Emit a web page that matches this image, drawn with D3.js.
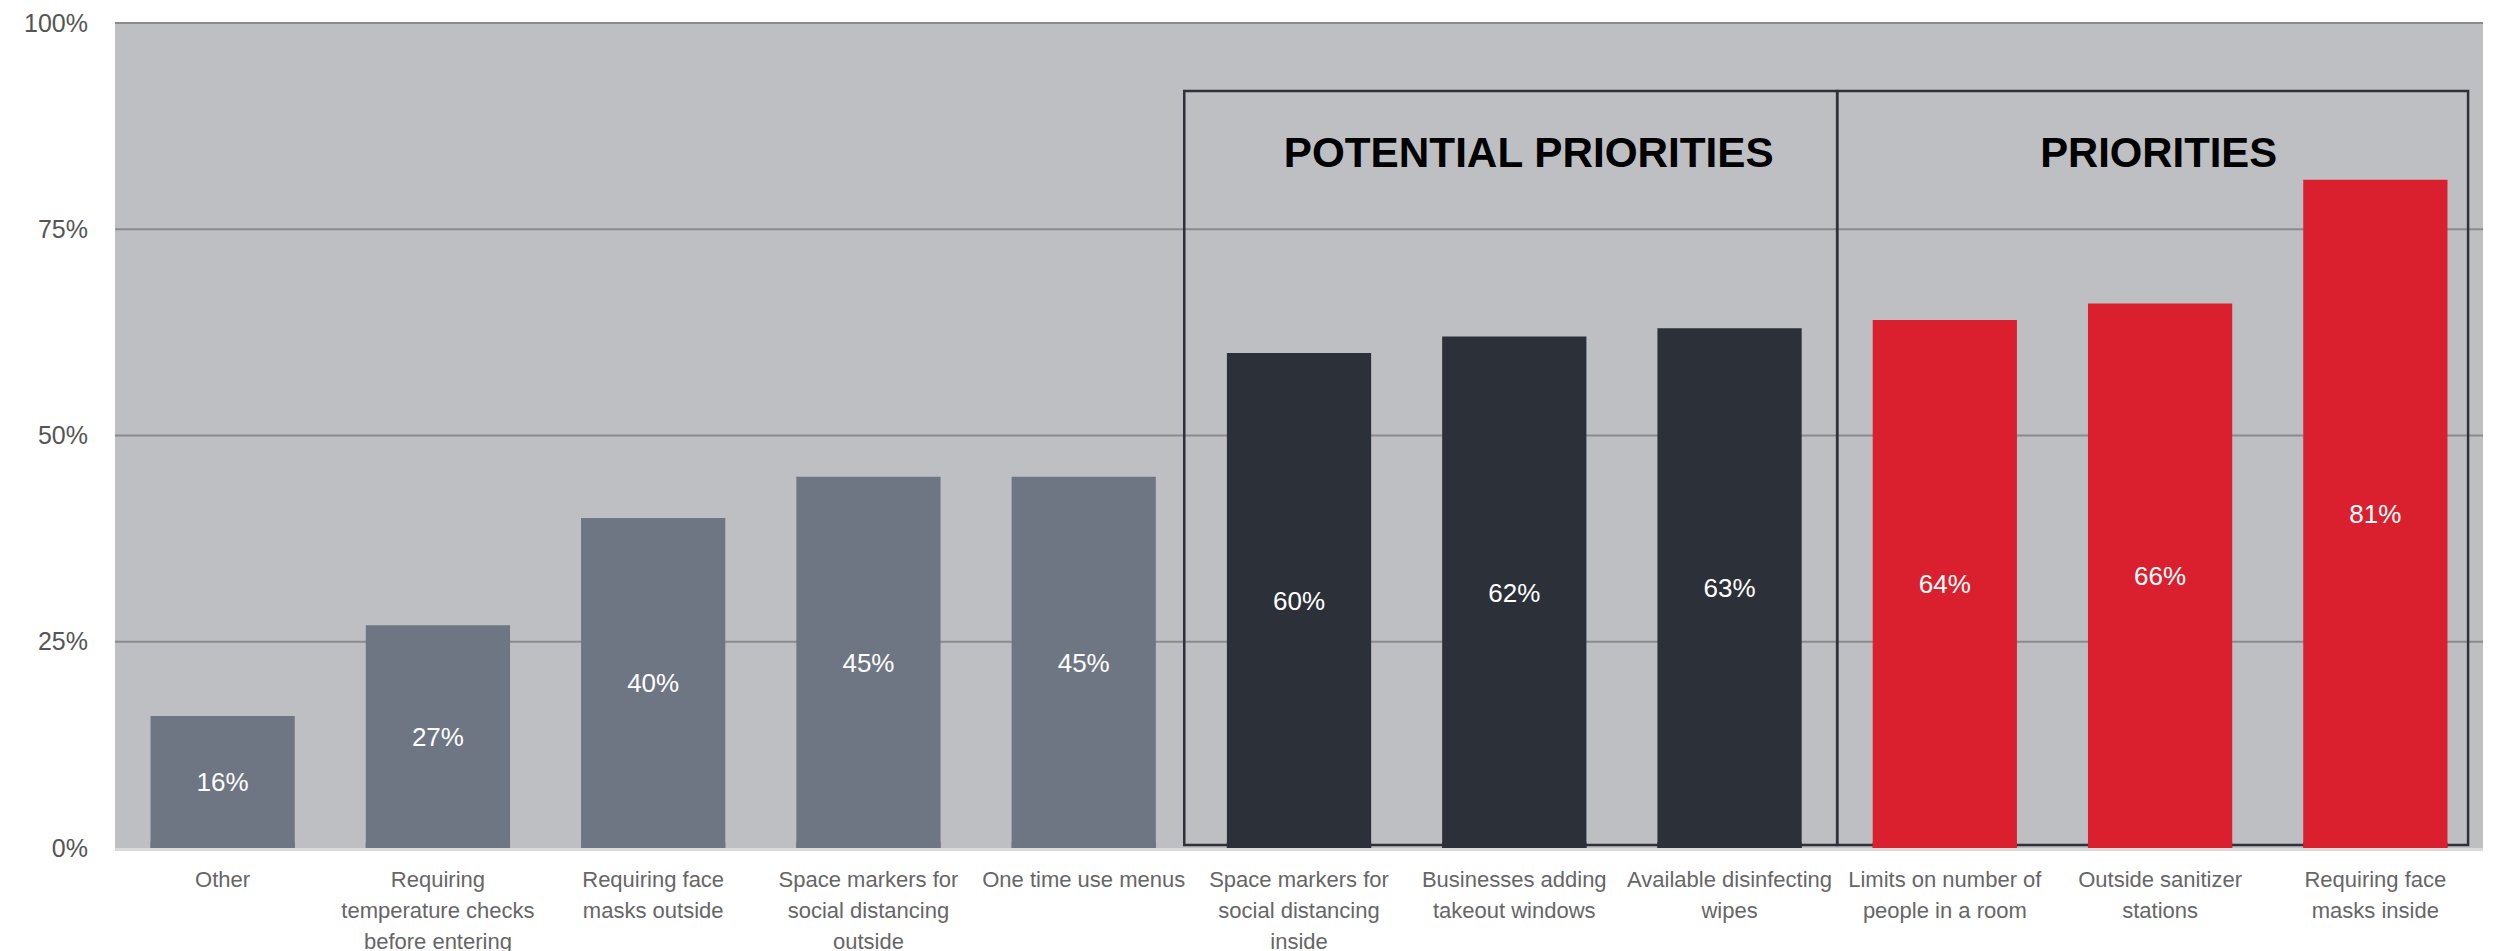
<!DOCTYPE html>
<html>
<head>
<meta charset="utf-8">
<script src="https://cdn.jsdelivr.net/npm/d3@7"></script>
<style>
  html, body { margin: 0; padding: 0; background: #ffffff; }
  svg { display: block; }
  text { font-family: "Liberation Sans", Arial, Helvetica, sans-serif; }
</style>
</head>
<body>
<svg id="chart" width="2501" height="951"></svg>
<script>
// Share of respondents naming each safety measure
const categories = [
  "Other",
  "Requiring temperature checks before entering",
  "Requiring face masks outside",
  "Space markers for social distancing outside",
  "One time use menus",
  "Space markers for social distancing inside",
  "Businesses adding takeout windows",
  "Available disinfecting wipes",
  "Limits on number of people in a room",
  "Outside sanitizer stations",
  "Requiring face masks inside"
];
const labelLines = [
  ["Other"],
  ["Requiring", "temperature checks", "before entering"],
  ["Requiring face", "masks outside"],
  ["Space markers for", "social distancing", "outside"],
  ["One time use menus"],
  ["Space markers for", "social distancing", "inside"],
  ["Businesses adding", "takeout windows"],
  ["Available disinfecting", "wipes"],
  ["Limits on number of", "people in a room"],
  ["Outside sanitizer", "stations"],
  ["Requiring face", "masks inside"]
];
const values = [0.16, 0.27, 0.40, 0.45, 0.45, 0.60, 0.62, 0.63, 0.64, 0.66, 0.81];
const tiers = ["other", "other", "other", "other", "other",
               "potential", "potential", "potential",
               "priority", "priority", "priority"];
const yTicks = [0, 0.25, 0.5, 0.75, 1];
const groupTitles = [
  { tier: "potential", title: "POTENTIAL PRIORITIES" },
  { tier: "priority", title: "PRIORITIES" }
];

const tierColor = { other: "#6e7684", potential: "#2c3039", priority: "#da1f2e" };

const svg = d3.select("#chart");
const plot = { left: 115, right: 2483, top: 23, bottom: 848 };

const x = d3.scaleBand()
  .domain(categories)
  .range([plot.left, plot.right])
  .paddingInner(0.33)
  .paddingOuter(0.165);

const y = d3.scaleLinear().domain([0, 1]).range([plot.bottom, plot.top]);

// plot background
svg.append("rect")
  .attr("x", plot.left).attr("y", plot.top)
  .attr("width", plot.right - plot.left).attr("height", plot.bottom - plot.top)
  .attr("fill", "#bebfc3");

// gridlines
svg.append("g").selectAll("line")
  .data(yTicks.filter(d => d > 0))
  .join("line")
  .attr("x1", plot.left).attr("x2", plot.right)
  .attr("y1", d => y(d)).attr("y2", d => y(d))
  .attr("stroke", "#8b8b8b").attr("stroke-width", 2);

// y axis labels
const yAxis = d3.axisLeft(y).tickValues(yTicks).tickFormat(d3.format(".0%")).tickSize(0).tickPadding(27);
const yg = svg.append("g").attr("transform", `translate(${plot.left},0)`).call(yAxis);
yg.select(".domain").remove();
yg.selectAll("text")
  .attr("font-size", 25).attr("fill", "#555555")
  .attr("font-family", "'Liberation Sans', Arial, sans-serif");

// group boxes
const step = x.step();
const gap = step - x.bandwidth();
const boxTop = 91, boxBottom = 845;
const firstOf = t => categories[tiers.indexOf(t)];
const lastOf = t => categories[tiers.lastIndexOf(t)];
const boxes = groupTitles.map((g, i) => {
  const left = i === 0 ? x(firstOf(g.tier)) - gap * 0.6 : x(firstOf(g.tier)) - gap / 2;
  const right = i === groupTitles.length - 1
    ? x(lastOf(g.tier)) + x.bandwidth() + gap * 0.29
    : x(lastOf(g.tier)) + x.bandwidth() + gap / 2;
  return { ...g, left, right };
});

// bars
svg.append("g").selectAll("rect")
  .data(categories)
  .join("rect")
  .attr("x", d => x(d))
  .attr("y", (d, i) => y(values[i]))
  .attr("width", x.bandwidth())
  .attr("height", (d, i) => y(0) - y(values[i]))
  .attr("fill", (d, i) => tierColor[tiers[i]]);

// box outlines (drawn under-bar bottom stays visible)
svg.append("g").selectAll("rect")
  .data(boxes)
  .join("rect")
  .attr("x", d => d.left).attr("y", boxTop)
  .attr("width", d => d.right - d.left).attr("height", boxBottom - boxTop)
  .attr("fill", "none").attr("stroke", "#2e3139").attr("stroke-width", 2.5);

// redraw bars over the box bottoms
svg.append("g").selectAll("rect")
  .data(categories)
  .join("rect")
  .attr("x", d => x(d))
  .attr("y", (d, i) => Math.max(y(values[i]), boxBottom - 3))
  .attr("width", x.bandwidth())
  .attr("height", (d, i) => y(0) - Math.max(y(values[i]), boxBottom - 3))
  .attr("fill", (d, i) => tierColor[tiers[i]]);

// x axis baseline
svg.append("line")
  .attr("x1", plot.left).attr("x2", plot.right)
  .attr("y1", plot.bottom + 1.5).attr("y2", plot.bottom + 1.5)
  .attr("stroke", "#dadada").attr("stroke-width", 3);

// group titles
const titleWidths = { potential: 490, priority: 237 };
const titleCenters = { potential: 1528, priority: 2158 };
svg.append("g").selectAll("text")
  .data(boxes)
  .join("text")
  .attr("x", d => (d.left + d.right) / 2 + (d.tier === "potential" ? 18 : 6))
  .attr("y", 167)
  .attr("text-anchor", "middle")
  .attr("font-size", 43)
  .attr("font-weight", "bold")
  .attr("fill", "#000000")
  .attr("textLength", d => titleWidths[d.tier])
  .attr("lengthAdjust", "spacingAndGlyphs")
  .text(d => d.title);

// value labels centred in each bar
svg.append("g").selectAll("text")
  .data(categories)
  .join("text")
  .attr("x", d => x(d) + x.bandwidth() / 2)
  .attr("y", (d, i) => (y(values[i]) + y(0)) / 2)
  .attr("dy", "0.36em")
  .attr("text-anchor", "middle")
  .attr("font-size", 26)
  .attr("fill", "#ffffff")
  .text((d, i) => d3.format(".0%")(values[i]));

// category labels
const xl = svg.append("g").selectAll("text")
  .data(categories)
  .join("text")
  .attr("text-anchor", "middle")
  .attr("font-size", 22)
  .attr("fill", "#666666")
  .attr("transform", d => `translate(${x(d) + x.bandwidth() / 2},887)`);
xl.selectAll("tspan")
  .data((d, i) => labelLines[i])
  .join("tspan")
  .attr("x", 0)
  .attr("y", (d, j) => j * 31)
  .text(d => d);
</script>
</body>
</html>
